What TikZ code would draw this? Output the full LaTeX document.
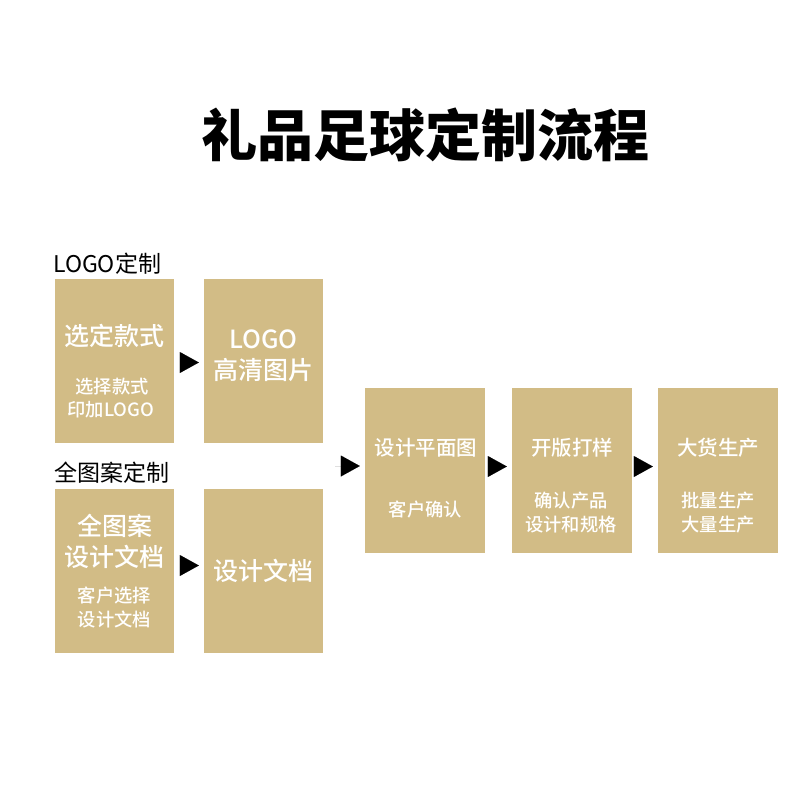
\documentclass[tikz,border=0pt]{standalone}
\usepackage{fontspec}
\setmainfont{Noto Sans CJK SC}
\newfontfamily\medfont{Noto Sans CJK SC Medium}
\usetikzlibrary{arrows.meta}
\definecolor{gold}{HTML}{D2BC86}
\begin{document}
\begin{tikzpicture}[x=1pt,y=-1pt,
  box/.style={fill=gold,draw=none,inner sep=0pt,minimum width=119pt,minimum height=164pt},
  boxb/.style={fill=gold,draw=none,inner sep=0pt,minimum width=120pt,minimum height=165pt},
  big/.style={text=white,inner sep=0pt,font=\medfont\fontsize{25}{30}\selectfont},
  mid/.style={text=white,inner sep=0pt,font=\medfont\fontsize{20.5}{25}\selectfont},
  small/.style={text=white,inner sep=0pt,font=\medfont\fontsize{18.3}{22}\selectfont},
  lab/.style={text=black,inner sep=0pt,anchor=west,font=\fontsize{23}{27}\selectfont},
  arr/.style={line width=0.01pt,-{Triangle[length=19pt,width=21pt]},shorten <=6pt,shorten >=5pt}]
\useasboundingbox[fill=white] (0,0) rectangle (800,800);
\node[inner sep=0pt,font=\fontsize{56}{60}\selectfont\bfseries] (title) at (425,135) {礼品足球定制流程};
\node[lab] (l1) at (53,264) {LOGO定制};
\node[lab] (l2) at (54,473) {全图案定制};
% boxes
\node[box] (b1) at (114.5,361) {};
\node[box] (b2) at (263.5,361) {};
\node[box] (b3) at (114.5,570.5) {};
\node[box] (b4) at (263.5,570.5) {};
\node[boxb] (b5) at (425,470.5) {};
\node[boxb] (b6) at (572,470.5) {};
\node[boxb] (b7) at (718,470.5) {};
% texts
\node[big] (t1a) at (114.5,336) {选定款式};
\node[small] (t1b) at (112,386.5) {选择款式};
\node[small] (t1c) at (111,410) {印加LOGO};
\node[big] (t2a) at (263.5,339) {LOGO};
\node[big] (t2b) at (263.5,370) {高清图片};
\node[big] (t3a) at (114.5,526) {全图案};
\node[big] (t3b) at (114.5,557) {设计文档};
\node[small] (t3c) at (114.5,596) {客户选择};
\node[small] (t3d) at (114.5,619) {设计文档};
\node[big] (t4a) at (263.5,571) {设计文档};
\node[mid] (t5a) at (426,448) {设计平面图};
\node[small] (t5b) at (425.5,510) {客户确认};
\node[mid] (t6a) at (572,448) {开版打样};
\node[small] (t6b) at (571,500.5) {确认产品};
\node[small] (t6c) at (571,525) {设计和规格};
\node[mid] (t7a) at (718,448) {大货生产};
\node[small] (t7b) at (718,500.5) {批量生产};
\node[small] (t7c) at (718,525) {大量生产};
% arrows
\draw[arr] ([yshift=-1.5pt]b1.east) -- ([yshift=-1.5pt]b2.west);
\draw[arr] ([yshift=5pt]b3.east) -- ([yshift=5pt]b4.west);
\coordinate (m) at (329,466);
\draw[arr] (m) -- (m -| b5.west);
\draw[arr] ([yshift=4pt]b5.east) -- ([yshift=4pt]b6.west);
\draw[arr] ([yshift=4pt]b6.east) -- ([yshift=4pt]b7.west);
\end{tikzpicture}
\end{document}
